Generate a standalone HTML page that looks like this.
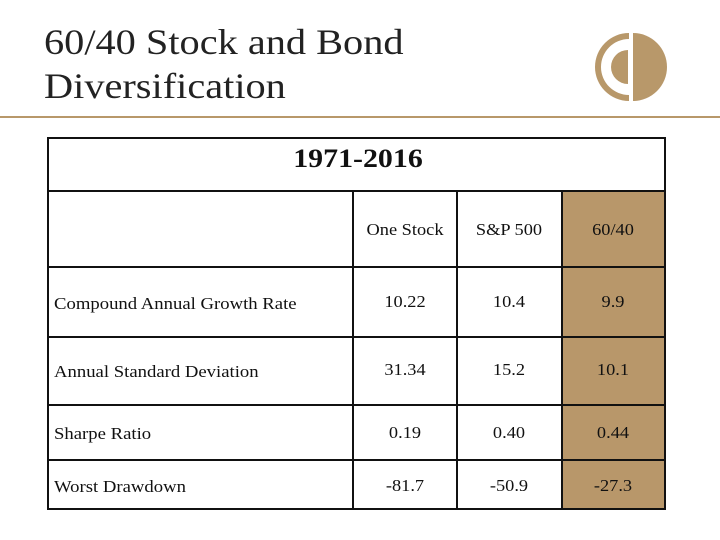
<!DOCTYPE html>
<html><head><meta charset="utf-8"><style>
body{margin:0;width:720px;height:540px;background:#fff;position:relative;overflow:hidden;font-family:"Liberation Serif",serif;color:#111}
.title{position:absolute;left:44px;top:20px;font-size:36px;line-height:44px;color:#222;transform-origin:0 0;transform:scaleX(1.12)}
.rule{position:absolute;left:0;top:116px;width:720px;height:2px;background:#b8986a}
.gold{position:absolute;left:562px;top:191px;width:104px;height:319px;background:#b8976a}
.h{position:absolute;background:#111}
.t{position:absolute;font-size:17px;transform:translate(-50%,-50%) scaleX(1.08);white-space:nowrap}
.l{position:absolute;font-size:17px;left:54px;transform-origin:0 50%;transform:translateY(-50%) scaleX(1.1);white-space:nowrap}
</style></head><body>
<div class="title">60/40 Stock and Bond<br>Diversification</div>
<svg style="position:absolute;left:590px;top:26px" width="82" height="82" viewBox="0 0 82 82">
<path d="M39 7 A34 34 0 0 0 39 75 L39 69 A28 28 0 0 1 39 13 Z" fill="#b8986a"/>
<path d="M38 24 A17 17 0 0 0 38 58 Z" fill="#b8986a"/>
<path d="M43 7 A34 34 0 0 1 43 75 Z" fill="#b8986a"/>
</svg>
<div class="rule"></div>
<div class="gold"></div>
<div style="position:absolute;left:47px;top:137px;width:615px;height:369px;border:2px solid #111"></div>
<div class="h" style="left:47px;top:190px;width:619px;height:2px"></div>
<div class="h" style="left:47px;top:266px;width:619px;height:2px"></div>
<div class="h" style="left:47px;top:336px;width:619px;height:2px"></div>
<div class="h" style="left:47px;top:404px;width:619px;height:2px"></div>
<div class="h" style="left:47px;top:459px;width:619px;height:2px"></div>
<div class="h" style="left:352px;top:191px;width:2px;height:319px"></div>
<div class="h" style="left:456px;top:191px;width:2px;height:319px"></div>
<div class="h" style="left:561px;top:191px;width:2px;height:319px"></div>
<div class="t" style="left:358px;top:159px;font-size:26px;font-weight:bold;transform:translate(-50%,-50%) scaleX(1.15)">1971-2016</div>
<div class="t" style="left:405px;top:230px">One Stock</div>
<div class="t" style="left:509px;top:230px">S&amp;P 500</div>
<div class="t" style="left:613px;top:230px">60/40</div>
<div class="l" style="top:304px">Compound Annual Growth Rate</div>
<div class="t" style="left:405px;top:302px">10.22</div><div class="t" style="left:509px;top:302px">10.4</div><div class="t" style="left:613px;top:302px">9.9</div>
<div class="l" style="top:372px">Annual Standard Deviation</div>
<div class="t" style="left:405px;top:370px">31.34</div><div class="t" style="left:509px;top:370px">15.2</div><div class="t" style="left:613px;top:370px">10.1</div>
<div class="l" style="top:434px">Sharpe Ratio</div>
<div class="t" style="left:405px;top:433px">0.19</div><div class="t" style="left:509px;top:433px">0.40</div><div class="t" style="left:613px;top:433px">0.44</div>
<div class="l" style="top:487px">Worst Drawdown</div>
<div class="t" style="left:405px;top:486px">-81.7</div><div class="t" style="left:509px;top:486px">-50.9</div><div class="t" style="left:613px;top:486px">-27.3</div>
</body></html>
